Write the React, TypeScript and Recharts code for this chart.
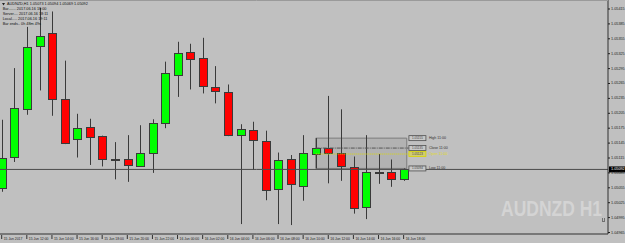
import React from 'react';
import { ComposedChart, Bar, XAxis, YAxis, ReferenceLine, ReferenceArea, ReferenceDot } from 'recharts';

// H1 candles, 15 Jun 10:00 .. 16 Jun 18:00
const opens = [1.05055, 1.05117, 1.05214, 1.05341, 1.05366, 1.05233, 1.05153, 1.05177, 1.05159, 1.05113, 1.05112, 1.05098, 1.05125, 1.05186, 1.05282, 1.05328, 1.05316, 1.05257, 1.05247, 1.05161, 1.05171, 1.0515, 1.05052, 1.05112, 1.05059, 1.05123, 1.05135, 1.05125, 1.05096, 1.05016, 1.05085, 1.05087, 1.05073];
const highs = [1.05192, 1.05296, 1.05379, 1.05417, 1.0541, 1.05311, 1.05204, 1.05194, 1.0516, 1.05147, 1.05161, 1.05181, 1.05193, 1.05309, 1.05349, 1.05345, 1.05357, 1.053, 1.05263, 1.05183, 1.05188, 1.0517, 1.05126, 1.05121, 1.05161, 1.05155, 1.0524, 1.05213, 1.05118, 1.05161, 1.05123, 1.05112, 1.05094];
const lows = [1.05047, 1.05107, 1.05202, 1.05251, 1.052, 1.05143, 1.05116, 1.05101, 1.05098, 1.05072, 1.05067, 1.05097, 1.05085, 1.05175, 1.05238, 1.05253, 1.05245, 1.05225, 1.05159, 1.04982, 1.05091, 1.0503, 1.04982, 1.0498, 1.05029, 1.05094, 1.05064, 1.05069, 1.05003, 1.04992, 1.05063, 1.05057, 1.05069];
const closes = [1.05115, 1.05216, 1.05339, 1.05361, 1.05233, 1.05145, 1.05175, 1.05158, 1.05114, 1.0511, 1.051, 1.05125, 1.05185, 1.05287, 1.05327, 1.05314, 1.05259, 1.05249, 1.05162, 1.05173, 1.05151, 1.05051, 1.0511, 1.05062, 1.05125, 1.05135, 1.05125, 1.05099, 1.05014, 1.05086, 1.05087, 1.05073, 1.05092];

const timeLabels = ['15 Jun 2017', '15 Jun 12:00', '15 Jun 14:00', '15 Jun 16:00', '15 Jun 18:00', '15 Jun 20:00', '15 Jun 22:00', '16 Jun 00:00', '16 Jun 02:00', '16 Jun 04:00', '16 Jun 06:00', '16 Jun 08:00', '16 Jun 10:00', '16 Jun 12:00', '16 Jun 14:00', '16 Jun 16:00', '16 Jun 18:00'];
const priceTicks = [1.05415, 1.05385, 1.05355, 1.05325, 1.05295, 1.05265, 1.05235, 1.05205, 1.05175, 1.05145, 1.05115, 1.05085, 1.05055, 1.05025, 1.04995, 1.04965];

const levelNames = ['High 11:00', 'Close 11:00', 'Open 11:00', 'Low 11:00'];
const levelPrices = [1.05155, 1.05135, 1.05123, 1.05094];
const bidPrice = 1.05092;

const data = opens.map((o, i) => ({
  i,
  o,
  h: highs[i],
  l: lows[i],
  c: closes[i],
  range: [lows[i], highs[i]],
}));

const xTicks = timeLabels.map((_, k) => k * 2);
const FONT = 'Liberation Sans, Arial, sans-serif';
const BG = '#c0c0c0';

const Candle = (props: any) => {
  const { x, y, width, height, payload } = props;
  const { o, h, l, c } = payload;
  const top = Math.min(y, y + height);
  const span = Math.abs(height);
  const k = h - l > 0 ? span / (h - l) : 0;
  const py = (p: number) => top + (h - p) * k;
  const cx = Math.round(x + width / 2) + 0.5;
  const bTop = Math.round(py(Math.max(o, c))) + 0.5;
  let bBot = Math.round(py(Math.min(o, c))) + 0.5;
  if (bBot - bTop < 1) bBot = bTop + 1;
  const fill = c >= o ? '#00ff00' : '#ff0000';
  return (
    <g>
      <line x1={cx} x2={cx} y1={py(h)} y2={py(l)} stroke="#3a3a3a" strokeWidth={1} />
      <rect x={cx - 4} y={bTop} width={8} height={bBot - bTop} fill={fill} stroke="#3a3a3a" strokeWidth={1} />
    </g>
  );
};

const PriceTick = (props: any) => {
  const { x, y, payload } = props;
  return (
    <g>
      <line x1={x} x2={x + 2} y1={y} y2={y} stroke="#202020" />
      <text x={x + 3} y={y} fontSize={3.8} fill="#202020" fontFamily={FONT} dominantBaseline="central">
        {payload.value.toFixed(5)}
      </text>
    </g>
  );
};

const TimeTick = (props: any) => {
  const { x, y, payload } = props;
  const label = timeLabels[payload.value / 2];
  return (
    <g>
      <line x1={x} x2={x} y1={y + 1} y2={y + 5} stroke="#303030" />
      <text x={x + 2} y={y + 5} fontSize={3.4} fill="#202020" fontFamily={FONT} dominantBaseline="central">
        {label}
      </text>
    </g>
  );
};

const LevelTag = (name: string, price: number, yellow: boolean) => (props: any) => {
  const { cx, cy } = props;
  const c = yellow ? '#d8d400' : '#505050';
  return (
    <g>
      <rect x={cx} y={cy - 2.5} width={17} height={5} fill={yellow ? '#d0cc70' : '#c8c8c8'} stroke={c} strokeWidth={0.8} />
      <text x={cx + 8.5} y={cy} fontSize={3} textAnchor="middle" dominantBaseline="central" fill="#404040" fontFamily={FONT}>
        {price.toFixed(5)}
      </text>
      <text x={cx + 20} y={cy} fontSize={3.6} dominantBaseline="central" fill={yellow ? '#e0dc20' : '#303030'} fontFamily={FONT}>
        {name}
      </text>
    </g>
  );
};

const BidTag = (props: any) => {
  const { cx, cy } = props;
  return (
    <g>
      <rect x={cx + 1} y={cy - 3} width={16} height={6} fill="#000" />
      <text x={cx + 3} y={cy} fontSize={3.8} fill="#fff" dominantBaseline="central" fontFamily={FONT}>
        {bidPrice.toFixed(5)}
      </text>
    </g>
  );
};

export default function App() {
  const d0 = -0.135;
  const d1 = 48.27;
  return (
    <div style={{ position: 'absolute', left: 0, top: 0, width: 625, height: 243, background: BG }}>
      <ComposedChart width={625} height={243} data={data} margin={{ top: 0, right: 0, bottom: 0, left: 0 }}>
        <XAxis
          dataKey="i"
          type="number"
          domain={[d0, d1]}
          ticks={xTicks}
          interval={0}
          height={9}
          tickSize={0}
          tickMargin={0}
          tickLine={false}
          axisLine={{ stroke: '#303030' }}
          tick={TimeTick}
          allowDataOverflow
        />
        <YAxis
          orientation="right"
          domain={[1.04962, 1.054331]}
          ticks={priceTicks}
          width={17}
          tickSize={0}
          tickMargin={0}
          tickLine={false}
          axisLine={{ stroke: '#303030' }}
          tick={PriceTick}
          interval={0}
          allowDataOverflow
        />
        <ReferenceArea x1={25} x2={32.25} y1={levelPrices[3]} y2={levelPrices[0]} fill="#b2b2b2" fillOpacity={1} stroke="#7c7c7c" strokeWidth={1} />
        <ReferenceLine y={bidPrice} stroke="#4a4a4a" strokeWidth={1} />
        <ReferenceLine segment={[{ x: 25, y: levelPrices[1] }, { x: 32.4, y: levelPrices[1] }]} stroke="#555" strokeDasharray="4 1 1 1" />
        <ReferenceLine segment={[{ x: 25, y: levelPrices[2] }, { x: 32.4, y: levelPrices[2] }]} stroke="#dcd800" strokeDasharray="1 1" />
        <Bar dataKey="range" barSize={9} shape={Candle} isAnimationActive={false} />
        {levelNames.map((n, k) => (
          <ReferenceDot key={n} x={32.42} y={levelPrices[k]} r={0} shape={LevelTag(n, levelPrices[k], k === 2)} />
        ))}
        <ReferenceDot x={d1} y={bidPrice} r={0} shape={BidTag} />
      </ComposedChart>
      <svg width={625} height={243} style={{ position: 'absolute', left: 0, top: 0, pointerEvents: 'none' }}>
        <line x1={0} x2={608} y1={0.5} y2={0.5} stroke="#9a9a9a" />
        <polygon points="2,3 5,3 3.5,5.5" fill="#202020" />
        <g fontFamily={FONT} fontSize={3.8} fill="#101010">
          <text x={7} y={5}>AUDNZD,H1  1.05073 1.05094 1.05069 1.05092</text>
          <text x={2.7} y={10}>Bar.......  2017.06.16 18:00</text>
          <text x={2.7} y={15}>Server....  2017.06.16 18:11</text>
          <text x={2.7} y={20}>Local.....  2017.06.16 19:11</text>
          <text x={2.7} y={25}>Bar ends.. 0h 48m 49s</text>
        </g>
        <g transform="translate(501,216) scale(1,1.3)">
          <text x={0} y={0} fontSize={17.5} fontWeight="bold" fill="#d4d4d4" fontFamily={FONT}>
            AUDNZD H1
          </text>
        </g>
        <g fill="#707070">
          <rect x={602} y={218} width={1} height={4} />
          <rect x={604} y={218} width={1} height={4} />
          <rect x={602} y={221} width={3} height={1} />
        </g>
      </svg>
    </div>
  );
}
